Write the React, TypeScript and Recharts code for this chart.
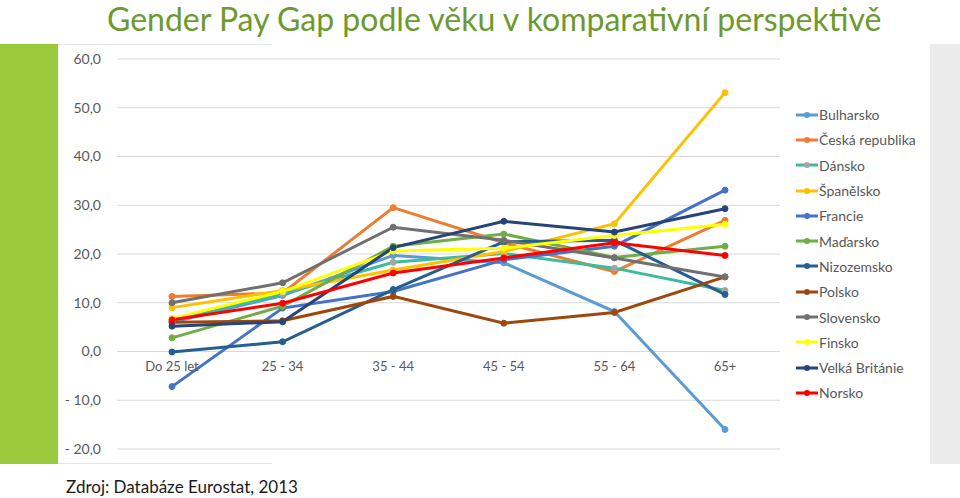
import { CartesianGrid, Line, LineChart, ReferenceDot, YAxis, XAxis } from "recharts"

const categories = ["Do 25 let", "25 - 34", "35 - 44", "45 - 54", "55 - 64", "65+"]

const bulharsko = [6.0, 11.5, 19.7, 18.2, 8.2, -16.0]
const ceskaRepublika = [11.3, 12.0, 29.5, 22.3, 16.4, 26.9]
const dansko = [6.2, 11.8, 18.3, 20.1, 17.1, 12.5]
const spanelsko = [9.0, 12.5, 16.7, 20.5, 26.2, 53.1]
const francie = [-7.2, 8.9, 12.3, 18.8, 21.6, 33.1]
const madarsko = [2.8, 9.3, 21.6, 24.1, 19.3, 21.6]
const nizozemsko = [-0.1, 2.0, 12.7, 22.5, 22.8, 11.7]
const polsko = [6.0, 6.3, 11.3, 5.8, 8.0, 15.3]
const slovensko = [10.0, 14.1, 25.5, 22.8, 19.2, 15.3]
const finsko = [6.8, 12.3, 20.6, 21.2, 23.8, 26.1]
const velkaBritanie = [5.2, 6.1, 21.3, 26.7, 24.5, 29.3]
const norsko = [6.5, 9.9, 16.1, 19.2, 22.3, 19.7]

const yTicks = [-20, -10, 0, 10, 20, 30, 40, 50, 60]

const series = [
  { key: "Bulharsko", values: bulharsko, color: "#5B9BD5", dot: "#5B9BD5" },
  { key: "Česká republika", values: ceskaRepublika, color: "#ED7D31", dot: "#ED7D31" },
  { key: "Dánsko", values: dansko, color: "#3DBB9F", dot: "#A5A5A5" },
  { key: "Španělsko", values: spanelsko, color: "#FFC000", dot: "#FFC000" },
  { key: "Francie", values: francie, color: "#4472C4", dot: "#4472C4" },
  { key: "Maďarsko", values: madarsko, color: "#70AD47", dot: "#70AD47" },
  { key: "Nizozemsko", values: nizozemsko, color: "#255E91", dot: "#255E91" },
  { key: "Polsko", values: polsko, color: "#9E480E", dot: "#9E480E" },
  { key: "Slovensko", values: slovensko, color: "#707070", dot: "#707070" },
  { key: "Finsko", values: finsko, color: "#FFFF00", dot: "#FFFF00" },
  { key: "Velká Británie", values: velkaBritanie, color: "#264478", dot: "#264478" },
  { key: "Norsko", values: norsko, color: "#FF0000", dot: "#FF0000" },
]

const data = categories.map((cat, i) => {
  const row: Record<string, string | number> = { cat }
  series.forEach((s) => {
    row[s.key] = s.values[i]
  })
  return row
})

const font = "Lato, 'Open Sans', sans-serif"

function formatTick(v: number) {
  const s = Math.abs(v).toFixed(1).replace(".", ",")
  return v < 0 ? "- " + s : s
}

function LegendBox() {
  return (
    <div style={{ position: "absolute", left: 796, top: 102, fontFamily: font, fontSize: 14, color: "#595959" }}>
      {series.map((s) => (
        <div key={s.key} style={{ height: 25.3, display: "flex", alignItems: "center", whiteSpace: "nowrap" }}>
          <svg width={22} height={10} style={{ marginRight: 1 }}>
            <line x1={0} y1={5} x2={22} y2={5} stroke={s.color} strokeWidth={3} />
            <circle cx={11} cy={5} r={3} fill={s.dot} />
          </svg>
          <span>{s.key}</span>
        </div>
      ))}
    </div>
  )
}

export default function App() {
  return (
    <div style={{ position: "absolute", left: 0, top: 0, width: 960, height: 498, background: "#fff", overflow: "hidden" }}>
      <div style={{ position: "absolute", left: 0, top: 44, width: 58, height: 420, background: "#9ACA3C" }} />
      <div style={{ position: "absolute", left: 930, top: 44, width: 30, height: 420, background: "#EBEBEB" }} />
      <div style={{ position: "absolute", left: 58, top: 44, width: 214, height: 1, background: "#E6E6E6" }} />
      <div style={{ position: "absolute", left: 58, top: 463, width: 214, height: 1, background: "#E6E6E6" }} />
      <div
        style={{
          position: "absolute",
          left: 107,
          top: 0,
          fontFamily: font,
          fontSize: 32,
          lineHeight: "38px",
          color: "#6C9A2E",
          whiteSpace: "nowrap",
        }}
      >
        Gender Pay Gap podle věku v komparativní perspektivě
      </div>
      <div
        style={{
          position: "absolute",
          left: 66,
          top: 477,
          fontFamily: font,
          fontSize: 17,
          lineHeight: "20px",
          color: "#1a1a1a",
          whiteSpace: "nowrap",
        }}
      >
        Zdroj: Databáze Eurostat, 2013
      </div>
      <div style={{ position: "absolute", left: 0, top: 0 }}>
        <LineChart width={960} height={498} data={data} margin={{ top: 59, right: 180, bottom: 49, left: 57 }}>
          <CartesianGrid vertical={false} stroke="#D9D9D9" />
          <XAxis dataKey="cat" hide padding={{ left: 55, right: 55 }} />
          <YAxis
            width={60}
            domain={[-20, 60]}
            ticks={yTicks}
            tickFormatter={formatTick}
            axisLine={false}
            tickLine={false}
            tickMargin={10}
            tick={{ fill: "#595959", fontSize: 14, fontFamily: font }}
          />
          {categories.map((c) => (
            <ReferenceDot
              key={c}
              x={c}
              y={0}
              r={0}
              stroke="none"
              fill="none"
              label={{ value: c, position: "bottom", offset: 10, fill: "#595959", fontSize: 13, fontFamily: font }}
            />
          ))}
          {series.map((s) => (
            <Line
              key={s.key}
              dataKey={s.key}
              stroke={s.color}
              strokeWidth={3}
              dot={{ r: 3, fill: s.dot, stroke: s.dot, strokeWidth: 1 }}
              activeDot={false}
              isAnimationActive={false}
            />
          ))}
        </LineChart>
      </div>
      <LegendBox />
    </div>
  )
}
